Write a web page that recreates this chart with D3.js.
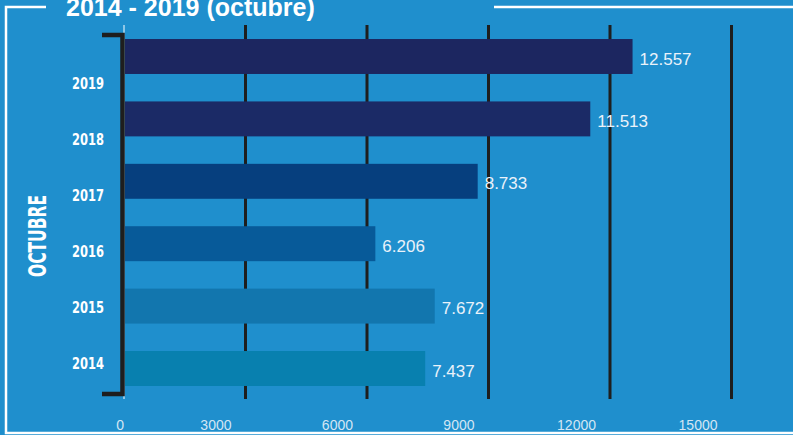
<!DOCTYPE html>
<html>
<head>
<meta charset="utf-8">
<script src="https://cdn.jsdelivr.net/npm/d3@7"></script>
<style>
  body { margin: 0; background: #1f8fcd; }
  svg { display: block; }
</style>
</head>
<body>
<div id="chart"></div>
<script>
// data
var years = ["2019", "2018", "2017", "2016", "2015", "2014"];
var values = [12557, 11513, 8733, 6206, 7672, 7437];
var barColors = ["#1c2660", "#1b2a66", "#063f7e", "#075a99", "#1276ae", "#0880af"];
var ticks = [0, 3000, 6000, 9000, 12000, 15000];

var width = 793, height = 435;

var svg = d3.select("#chart")
  .append("svg")
    .attr("width", width)
    .attr("height", height);

svg.append("rect")
  .attr("width", width)
  .attr("height", height)
  .attr("fill", "#1f8fcd");

// white frame, broken at the title
var frame = svg.append("g")
  .attr("stroke", "#ffffff")
  .attr("stroke-width", 2.5)
  .attr("fill", "none");
frame.append("path").attr("d", "M46,7 H6 V433 H800");
frame.append("path").attr("d", "M494,7 H800");

svg.append("text")
  .attr("x", 66)
  .attr("y", 15.5)
  .attr("font-family", "Liberation Sans, Arial, sans-serif")
  .attr("font-weight", "bold")
  .attr("font-size", "25px")
  .attr("fill", "#ffffff")
  .text("2014 - 2019 (octubre)");

// scales
var x = d3.scaleLinear()
  .domain([0, 15000])
  .range([124, 731.5]);

var y = d3.scaleBand()
  .domain(years)
  .range([25.3, 399.7])
  .paddingInner(0.44)
  .paddingOuter(0.22);

var yLabel = d3.scalePoint()
  .domain(years)
  .range([83, 363]);

// grid lines
svg.append("g")
  .selectAll("line")
  .data(ticks)
  .enter()
  .append("line")
    .attr("x1", function(d) { return x(d); })
    .attr("x2", function(d) { return x(d); })
    .attr("y1", 25)
    .attr("y2", 399)
    .attr("stroke", function(d) { return d === 0 ? "#ffffff" : "#1e1e1e"; })
    .attr("stroke-width", function(d) { return d === 0 ? 1 : 3; });

// tick labels
svg.append("g")
  .selectAll("text")
  .data(ticks)
  .enter()
  .append("text")
    .attr("x", function(d) { return d === 0 ? x(d) : x(d) - 14; })
    .attr("y", 430)
    .attr("text-anchor", "end")
    .attr("font-family", "Liberation Sans, Arial, sans-serif")
    .attr("font-size", "14px")
    .attr("fill", "#d3e6f4")
    .text(function(d) { return d; });

// bars
svg.append("g")
  .selectAll("rect")
  .data(values)
  .enter()
  .append("rect")
    .attr("x", x(0) + 1)
    .attr("y", function(d, i) { return y(years[i]); })
    .attr("width", function(d) { return x(d) - x(0) - 1; })
    .attr("height", y.bandwidth())
    .attr("fill", function(d, i) { return barColors[i]; });

// value labels
var fmt = d3.formatLocale({ decimal: ",", thousands: ".", grouping: [3], currency: ["", ""] }).format(",");
svg.append("g")
  .selectAll("text")
  .data(values)
  .enter()
  .append("text")
    .attr("x", function(d) { return x(d) + 7; })
    .attr("y", function(d, i) { return y(years[i]) + y.bandwidth() / 2 + 8; })
    .attr("font-family", "Liberation Sans, Arial, sans-serif")
    .attr("font-size", "17px")
    .attr("fill", "#eaf2fa")
    .text(function(d) { return fmt(d); });

// bracket
svg.append("path")
  .attr("d", "M102,35 H122.5 V394 H102")
  .attr("fill", "none")
  .attr("stroke", "#1e1e1e")
  .attr("stroke-width", 4.5);

// year labels
svg.append("g")
  .selectAll("text")
  .data(years)
  .enter()
  .append("text")
    .attr("x", 104)
    .attr("y", function(d) { return yLabel(d) + 6; })
    .attr("text-anchor", "end")
    .attr("font-family", "Liberation Sans Narrow, DejaVu Sans Condensed, sans-serif")
    .attr("font-weight", "bold")
    .attr("font-size", "16px")
    .attr("textLength", 32)
    .attr("lengthAdjust", "spacingAndGlyphs")
    .attr("fill", "#ffffff")
    .text(function(d) { return d; });

// rotated axis title
svg.append("text")
  .attr("transform", "translate(46,236) rotate(-90)")
  .attr("text-anchor", "middle")
  .attr("font-family", "Liberation Sans Narrow, DejaVu Sans Condensed, sans-serif")
  .attr("font-weight", "bold")
  .attr("font-size", "25px")
  .attr("textLength", 82)
  .attr("lengthAdjust", "spacingAndGlyphs")
  .attr("fill", "#ffffff")
  .text("OCTUBRE");
</script>
</body>
</html>
